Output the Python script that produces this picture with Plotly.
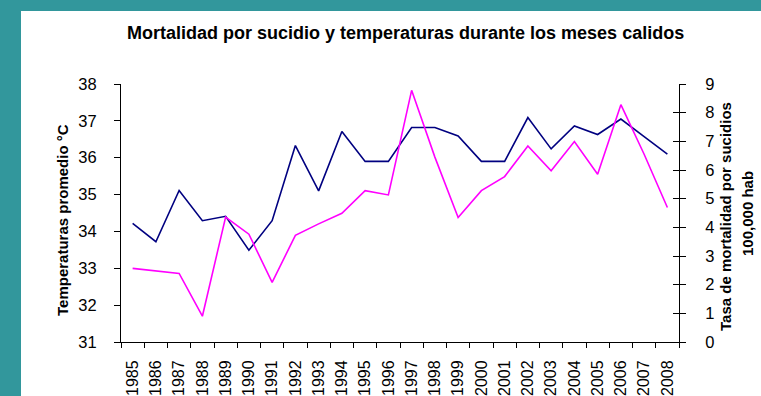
import plotly.graph_objects as go

# Series: mean warm-season temperature (left axis) and suicide mortality rate (right axis)
years = [str(y) for y in range(1985, 2009)]
temperatura = [34.22, 33.72, 35.11, 34.29, 34.41, 33.49, 34.29, 36.33, 35.10, 36.71,
               35.90, 35.90, 36.82, 36.82, 36.59, 35.90, 35.90, 37.09, 36.24, 36.86,
               36.63, 37.05, 36.57, 36.10]
tasa_suicidio = [2.57, 2.47, 2.39, 0.90, 4.36, 3.76, 2.08, 3.72, 4.12, 4.49,
                 5.28, 5.13, 8.78, 6.45, 4.34, 5.28, 5.77, 6.84, 5.97, 6.99,
                 5.85, 8.28, 6.55, 4.69]

W, H = 761, 396
L, R, T, B = 121, 679, 84, 342  # plot area in pixels

def px(x):
    return (x - L) / (R - L)

def py(y):
    return (B - y) / (B - T)

FONT = "Liberation Sans, Arial, sans-serif"
TEAL = "#32979c"

fig = go.Figure()
fig.add_trace(go.Scatter(x=years, y=temperatura, mode="lines",
                         line=dict(color="#000080", width=1.6),
                         yaxis="y", showlegend=False))
fig.add_trace(go.Scatter(x=years, y=tasa_suicidio, mode="lines",
                         line=dict(color="#ff00ff", width=1.6),
                         yaxis="y2", showlegend=False))
# invisible trace to carry the inner tick marks of the right axis
fig.add_trace(go.Scatter(x=years, y=tasa_suicidio, mode="lines",
                         line=dict(width=0), opacity=0, hoverinfo="skip",
                         yaxis="y3", showlegend=False))

axis_font = dict(family=FONT, size=16.5, color="#000000")

fig.update_layout(
    width=W, height=H,
    margin=dict(l=L, r=W - R, t=T, b=H - B, autoexpand=False),
    paper_bgcolor=TEAL,
    plot_bgcolor="#ffffff",
    xaxis=dict(type="category", range=[-0.5, 23.5], tickson="boundaries",
               ticks="outside", ticklen=5, tickcolor="#000", tickwidth=1,
               showline=True, linecolor="#000", linewidth=1,
               showgrid=False, zeroline=False, tickangle=-90,
               tickfont=dict(family=FONT, size=16, color="#000"),
               ticklabelstandoff=11, automargin=False),
    yaxis=dict(range=[31, 38], dtick=1, ticks="outside", ticklen=6,
               tickcolor="#000", showline=True, linecolor="#000", linewidth=1,
               showgrid=False, zeroline=False, tickfont=axis_font,
               ticklabelstandoff=14, automargin=False),
    yaxis2=dict(range=[0, 9], dtick=1, overlaying="y", side="right",
                ticks="outside", ticklen=6, tickcolor="#000",
                showline=True, linecolor="#000", linewidth=1,
                showgrid=False, zeroline=False, tickfont=axis_font,
                ticklabelstandoff=16, automargin=False),
    yaxis3=dict(range=[0, 9], dtick=1, overlaying="y", side="right",
                ticks="inside", ticklen=6, tickcolor="#000",
                showline=False, showticklabels=False,
                showgrid=False, zeroline=False, automargin=False),
)

# white page inside the teal frame
fig.add_shape(type="rect", xref="paper", yref="paper", layer="below",
              x0=px(21), x1=px(W + 5), y0=py(H + 5), y1=py(11),
              fillcolor="#ffffff", line=dict(width=0))

fig.add_annotation(text="<b>Mortalidad por sucidio y temperaturas durante los meses calidos</b>",
                   xref="paper", yref="paper", x=px(405), y=py(33),
                   xanchor="center", yanchor="middle", showarrow=False,
                   font=dict(family=FONT, size=18, color="#000"))
fig.add_annotation(text="<b>Temperaturas promedio °C</b>",
                   xref="paper", yref="paper", x=px(62), y=py(220),
                   xanchor="center", yanchor="middle", textangle=-90,
                   showarrow=False, font=dict(family=FONT, size=15, color="#000"))
fig.add_annotation(text="<b>Tasa de mortalidad por sucidios</b>",
                   xref="paper", yref="paper", x=px(725), y=py(217),
                   xanchor="center", yanchor="middle", textangle=-90,
                   showarrow=False, font=dict(family=FONT, size=15, color="#000"))
fig.add_annotation(text="<b>100,000 hab</b>",
                   xref="paper", yref="paper", x=px(747), y=py(214),
                   xanchor="center", yanchor="middle", textangle=-90,
                   showarrow=False, font=dict(family=FONT, size=15, color="#000"))

fig.write_html("out.html")
